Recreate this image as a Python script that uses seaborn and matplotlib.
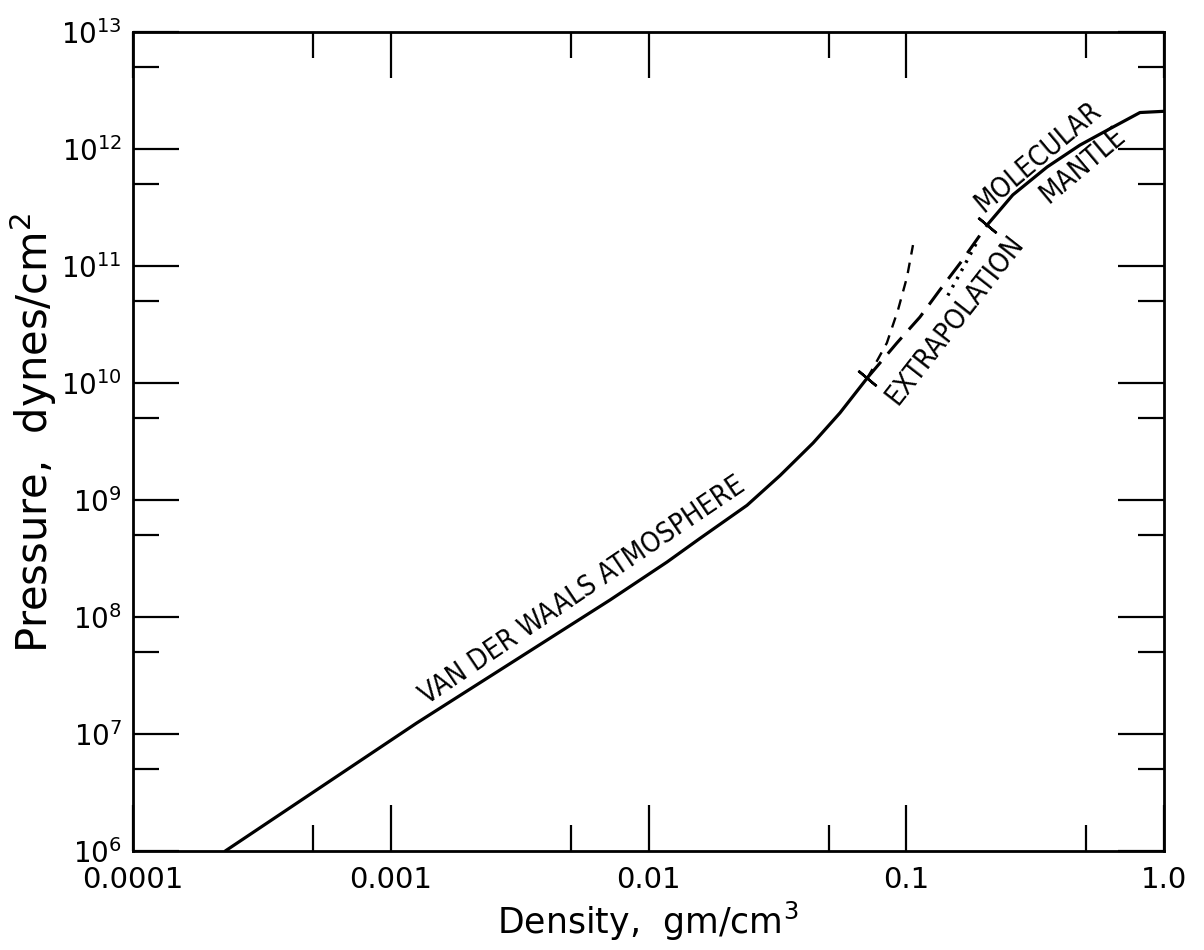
import numpy as np
import pandas as pd
import matplotlib
matplotlib.use("Agg")
import matplotlib.pyplot as plt
from matplotlib import font_manager as fm
import seaborn as sns

# ---- data (density gm/cm^3, pressure dynes/cm^2) ----
vdw_density = [2.28e-4, 1.26e-3, 7.10e-3, 1.18e-2, 1.58e-2, 2.41e-2, 3.24e-2, 4.35e-2, 5.53e-2, 7.05e-2]
vdw_pressure = [1.0e6, 1.24e7, 1.40e8, 2.95e8, 4.68e8, 9.00e8, 1.62e9, 3.07e9, 5.55e9, 1.10e10]

extrap_density = [7.05e-2, 9.20e-2, 0.113, 0.135, 0.162, 0.206]
extrap_pressure = [1.10e10, 2.20e10, 3.66e10, 6.24e10, 1.06e11, 2.24e11]

steep_density = [7.05e-2, 7.36e-2, 8.41e-2, 9.29e-2, 0.1007, 0.1062]
steep_pressure = [1.10e10, 1.29e10, 2.20e10, 4.21e10, 8.05e10, 1.51e11]

dotted_density = [0.145, 0.166, 0.188]
dotted_pressure = [5.6e10, 9.6e10, 1.60e11]

mantle_density = [0.206, 0.259, 0.352, 0.472, 0.634, 0.807, 1.0]
mantle_pressure = [2.24e11, 4.05e11, 7.02e11, 1.08e12, 1.54e12, 2.05e12, 2.10e12]

boundary_density = [7.05e-2, 0.206]
boundary_pressure = [1.10e10, 2.24e11]

x_ticks = [1e-4, 1e-3, 1e-2, 1e-1, 1.0]
x_ticklabels = ["0.0001", "0.001", "0.01", "0.1", "1.0"]
y_ticks = [1e6, 1e7, 1e8, 1e9, 1e10, 1e11, 1e12, 1e13]
y_ticklabels = [r"10$^{%d}$" % e for e in [6, 7, 8, 9, 10, 11, 12, 13]]

region_labels = ["VAN DER WAALS ATMOSPHERE", "EXTRAPOLATION", "MOLECULAR", "MANTLE"]
label_density = [5.52e-3, 0.1545, 0.324, 0.485]
label_pressure = [1.7e8, 3.45e10, 8.55e11, 7.3e11]
label_angle = [34, 52, 40, 40]

# ---- style ----
sns.set_style("white")
plt.rcParams["font.family"] = ["DejaVu Sans"]
plt.rcParams["text.color"] = "black"
plt.rcParams["axes.labelcolor"] = "black"
plt.rcParams["xtick.color"] = "black"
plt.rcParams["ytick.color"] = "black"


def font_file(**kw):
    try:
        return fm.findfont(fm.FontProperties(**kw), fallback_to_default=False)
    except Exception:
        return ""


narrow = "Narrow" in font_file(family="Liberation Sans Narrow")
cond = "Condensed" in font_file(family="DejaVu Sans", stretch="condensed")
if narrow:
    lab_kw = dict(family=["Liberation Sans Narrow", "DejaVu Sans"], fontsize=22)
elif cond:
    lab_kw = dict(family=["DejaVu Sans"], stretch="condensed", fontsize=20)
else:
    lab_kw = dict(family=["DejaVu Sans"], fontsize=18)

fig = plt.figure(figsize=(12.04, 9.5), dpi=100)
ax = fig.add_axes([133 / 1204, 1 - 851 / 950, (1164 - 133) / 1204, (851 - 32) / 950])

lw = 2.3
df_vdw = pd.DataFrame({"d": vdw_density, "p": vdw_pressure})
df_ext = pd.DataFrame({"d": extrap_density, "p": extrap_pressure})
df_st = pd.DataFrame({"d": steep_density, "p": steep_pressure})
df_dot = pd.DataFrame({"d": dotted_density, "p": dotted_pressure})
df_man = pd.DataFrame({"d": mantle_density, "p": mantle_pressure})

sns.lineplot(data=df_vdw, x="d", y="p", ax=ax, color="black", lw=lw, sort=False, estimator=None)
sns.lineplot(data=df_man, x="d", y="p", ax=ax, color="black", lw=lw, sort=False, estimator=None)
l1 = sns.lineplot(data=df_ext, x="d", y="p", ax=ax, color="black", lw=2.2, sort=False, estimator=None).lines[-1]
l1.set_dashes((7, 3.5))
l2 = sns.lineplot(data=df_st, x="d", y="p", ax=ax, color="black", lw=1.7, sort=False, estimator=None).lines[-1]
l2.set_dashes((4.5, 3.5))
l3 = sns.lineplot(data=df_dot, x="d", y="p", ax=ax, color="black", lw=2.4, sort=False, estimator=None).lines[-1]
l3.set_dashes((0.8, 2.0))

ax.plot(boundary_density, boundary_pressure, ls="none", marker=(2, 2, 50),
        ms=17, mew=1.8, mec="black", color="black")

ax.set_xscale("log")
ax.set_yscale("log")
ax.set_xlim(1e-4, 1.0)
ax.set_ylim(1e6, 1e13)

ax.set_xticks(x_ticks)
ax.set_xticklabels(x_ticklabels, fontsize=21)
ax.set_yticks(y_ticks)
ax.set_yticklabels(y_ticklabels, fontsize=20)
ax.xaxis.set_minor_locator(matplotlib.ticker.LogLocator(base=10, subs=[5.0]))
ax.yaxis.set_minor_locator(matplotlib.ticker.LogLocator(base=10, subs=[5.0]))
ax.xaxis.set_minor_formatter(matplotlib.ticker.NullFormatter())
ax.yaxis.set_minor_formatter(matplotlib.ticker.NullFormatter())
ax.tick_params(which="major", direction="in", length=33, width=1.6, color="black",
               top=True, right=True, bottom=True, left=True)
ax.tick_params(which="minor", direction="in", length=19, width=1.6, color="black",
               top=True, right=True, bottom=True, left=True)
ax.tick_params(axis="x", which="major", pad=11)
ax.tick_params(axis="y", which="major", pad=8)

for s in ax.spines.values():
    s.set_visible(True)
    s.set_color("black")
    s.set_linewidth(2.0)

ax.set_xlabel(r"Density,  gm/cm$^{3}$", fontsize=25, color="black")
ax.set_ylabel(r"Pressure,  dynes/cm$^{2}$", fontsize=30, color="black")
ax.xaxis.set_label_coords(0.499, -0.06)
ax.yaxis.set_label_coords(-0.072, 0.51)

for t, d, p, a in zip(region_labels, label_density, label_pressure, label_angle):
    ax.text(d, p, t, rotation=a, rotation_mode="anchor", ha="center", va="center",
            color="black", **lab_kw)

fig.savefig("out.png", dpi=100, facecolor="white")
